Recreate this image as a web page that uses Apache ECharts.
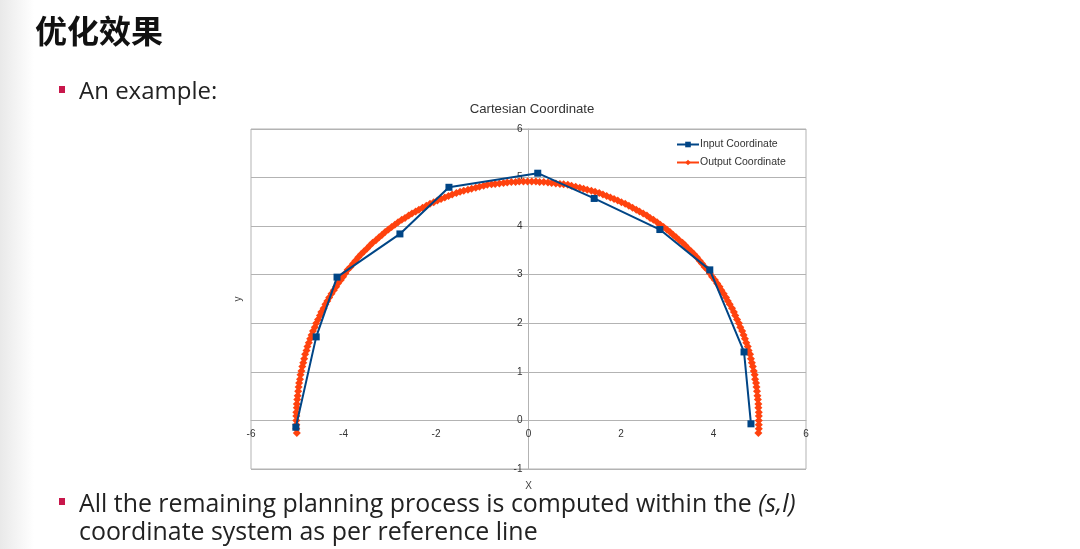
<!DOCTYPE html>
<html>
<head>
<meta charset="utf-8">
<title>优化效果</title>
<script src="https://cdn.jsdelivr.net/npm/echarts@6/dist/echarts.min.js"></script>
<style>
  html, body { margin: 0; padding: 0; background: #fff; }
  #main { width: 1080px; height: 549px; }
</style>
</head>
<body>
<div id="main"></div>
<script>
// input path points (blue squares)
var inX = [-5.03, -4.59, -4.14, -2.78, -1.72, 0.20, 1.42, 2.84, 3.92, 4.66, 4.81];
var inY = [-0.14, 1.72, 2.95, 3.84, 4.80, 5.09, 4.57, 3.93, 3.10, 1.41, -0.07];

// smoothed output points (orange diamonds), read left to right
var outX = [-5.01, -5.02, -5.02,
  -5.02, -5.02, -5.02, -5.01, -5.01, -5.00, -4.99, -4.98, -4.97, -4.96,
  -4.94, -4.93, -4.91, -4.89, -4.87, -4.85, -4.83, -4.80, -4.78, -4.75,
  -4.72, -4.69, -4.66, -4.62, -4.59, -4.55, -4.51, -4.48, -4.43, -4.39,
  -4.35, -4.31, -4.26, -4.21, -4.16, -4.12, -4.06, -4.01, -3.96, -3.91,
  -3.85, -3.79, -3.74, -3.68, -3.62, -3.56, -3.49, -3.43, -3.37, -3.30,
  -3.23, -3.17, -3.10, -3.03, -2.96, -2.89, -2.82, -2.74, -2.67, -2.59,
  -2.52, -2.44, -2.37, -2.29, -2.21, -2.13, -2.05, -1.97, -1.89, -1.81,
  -1.73, -1.65, -1.56, -1.48, -1.40, -1.31, -1.23, -1.14, -1.06, -0.97,
  -0.89, -0.80, -0.72, -0.63, -0.54, -0.46, -0.37, -0.28, -0.20, -0.11,
  -0.02,
  0.07, 0.16, 0.24, 0.33, 0.42, 0.50, 0.59, 0.68, 0.76, 0.85,
  0.93, 1.02, 1.11, 1.19, 1.27, 1.36, 1.44, 1.53, 1.61, 1.69,
  1.77, 1.85, 1.93, 2.01, 2.09, 2.17, 2.25, 2.33, 2.40, 2.48,
  2.56, 2.63, 2.70, 2.78, 2.85, 2.92, 2.99, 3.06, 3.13, 3.19,
  3.26, 3.33, 3.39, 3.45, 3.52, 3.58, 3.64, 3.70, 3.75, 3.81,
  3.87, 3.92, 3.97, 4.03, 4.08, 4.13, 4.17, 4.22, 4.27, 4.31,
  4.35, 4.40, 4.44, 4.47, 4.51, 4.55, 4.58, 4.62, 4.65, 4.68,
  4.71, 4.74, 4.76, 4.79, 4.81, 4.83, 4.85, 4.87, 4.89, 4.90,
  4.92, 4.93, 4.94, 4.95, 4.96, 4.97, 4.97, 4.98, 4.98, 4.98,
  4.98, 4.98, 4.97];
var outY = [-0.26, -0.17, -0.09,
  0.00, 0.09, 0.17, 0.26, 0.34, 0.43, 0.51, 0.60, 0.69, 0.77,
  0.85, 0.94, 1.02, 1.11, 1.19, 1.27, 1.36, 1.44, 1.52, 1.60,
  1.68, 1.76, 1.84, 1.92, 2.00, 2.08, 2.16, 2.23, 2.31, 2.39,
  2.46, 2.53, 2.61, 2.68, 2.75, 2.82, 2.89, 2.96, 3.03, 3.10,
  3.16, 3.23, 3.29, 3.36, 3.42, 3.48, 3.54, 3.60, 3.66, 3.71,
  3.77, 3.82, 3.88, 3.93, 3.98, 4.03, 4.08, 4.13, 4.17, 4.22,
  4.26, 4.30, 4.34, 4.38, 4.42, 4.46, 4.49, 4.53, 4.56, 4.59,
  4.62, 4.65, 4.68, 4.71, 4.73, 4.75, 4.77, 4.79, 4.81, 4.83,
  4.85, 4.86, 4.87, 4.88, 4.89, 4.90, 4.91, 4.91, 4.92, 4.92,
  4.92,
  4.92, 4.92, 4.91, 4.91, 4.90, 4.89, 4.88, 4.87, 4.86, 4.85,
  4.83, 4.81, 4.79, 4.77, 4.75, 4.73, 4.71, 4.68, 4.65, 4.62,
  4.59, 4.56, 4.53, 4.49, 4.46, 4.42, 4.38, 4.34, 4.30, 4.26,
  4.22, 4.17, 4.13, 4.08, 4.03, 3.98, 3.93, 3.88, 3.82, 3.77,
  3.71, 3.66, 3.60, 3.54, 3.48, 3.42, 3.36, 3.29, 3.23, 3.16,
  3.10, 3.03, 2.96, 2.89, 2.82, 2.75, 2.68, 2.61, 2.53, 2.46,
  2.39, 2.31, 2.23, 2.16, 2.08, 2.00, 1.92, 1.84, 1.76, 1.68,
  1.60, 1.52, 1.44, 1.36, 1.27, 1.19, 1.11, 1.02, 0.94, 0.85,
  0.77, 0.69, 0.60, 0.51, 0.43, 0.34, 0.26, 0.17, 0.09, 0.00,
  -0.09, -0.17, -0.26];

var seriesNames = ['Input Coordinate', 'Output Coordinate'];

function pairs(xs, ys) {
  return xs.map(function (x, i) { return [x, ys[i]]; });
}

var chartFont = '"Liberation Sans", Arial, sans-serif';
var slideFont = '"Open Sans", "Noto Sans", sans-serif';
var gridColor = '#b3b3b3';

// plot box in page pixels
var gLeft = 251, gRight = 806, gTop = 129, gBottom = 469;
// where the zero lines fall inside the box (x: -6..6, y: -1..6)
var zeroX = gLeft + (gRight - gLeft) * 6 / 12;
var zeroY = gBottom - (gBottom - gTop) * 1 / 7;

var mychart = echarts.init(document.getElementById('main'));
mychart.setOption({
  backgroundColor: '#fff',
  animation: false,
  textStyle: { fontFamily: chartFont },
  title: {
    text: 'Cartesian Coordinate',
    left: 527,
    top: 98,
    textAlign: 'center',
    textStyle: { fontSize: 13.2, fontWeight: 'normal', color: '#333', fontFamily: chartFont }
  },
  legend: {
    orient: 'vertical',
    left: 676,
    top: 139,
    padding: 0,
    itemWidth: 22,
    itemHeight: 7,
    itemGap: 7,
    textStyle: { fontSize: 10.5, color: '#333', fontFamily: chartFont, padding: [0, 0, 0, -4] },
    data: seriesNames
  },
  grid: {
    left: gLeft,
    right: 1080 - gRight,
    top: gTop,
    bottom: 549 - gBottom,
    outerBoundsMode: 'none',
    containLabel: false,
    show: true,
    borderColor: gridColor,
    borderWidth: 1
  },
  xAxis: {
    type: 'value',
    min: -6,
    max: 6,
    interval: 2,
    position: 'bottom',
    offset: -(gBottom - zeroY),
    name: 'X',
    nameLocation: 'middle',
    nameGap: 61,
    nameTextStyle: { fontSize: 10, color: '#444' },
    splitLine: { show: false },
    axisLine: { show: true, onZero: false, lineStyle: { color: gridColor } },
    axisTick: { show: false },
    axisLabel: { fontSize: 10, color: '#333', margin: 9 }
  },
  yAxis: {
    type: 'value',
    min: -1,
    max: 6,
    interval: 1,
    position: 'left',
    offset: -(zeroX - gLeft),
    name: 'y',
    nameLocation: 'middle',
    nameGap: 285,
    nameTextStyle: { fontSize: 10, color: '#444' },
    splitLine: { show: true, lineStyle: { color: gridColor } },
    axisLine: { show: true, onZero: false, lineStyle: { color: gridColor } },
    axisTick: { show: false },
    axisLabel: { fontSize: 10, color: '#333', margin: 6 }
  },
  graphic: [
    {
      type: 'rect',
      left: 0, top: 0, z: -10,
      shape: { width: 34, height: 549 },
      style: {
        fill: new echarts.graphic.LinearGradient(0, 0, 1, 0, [
          { offset: 0, color: '#e9e9e9' },
          { offset: 1, color: '#ffffff' }
        ])
      }
    },
    {
      type: 'text', left: 35, top: 15,
      style: { text: '优化效果', font: 'bold 32px "Noto Sans CJK SC"', fill: '#111' }
    },
    {
      type: 'rect', left: 59, top: 86,
      shape: { width: 6, height: 7 },
      style: { fill: '#c8174b' }
    },
    {
      type: 'text', left: 79, top: 80,
      style: { text: 'An example:', font: '24px ' + slideFont, fill: '#222' }
    },
    {
      type: 'rect', left: 59, top: 498,
      shape: { width: 6, height: 7 },
      style: { fill: '#c8174b' }
    },
    {
      type: 'text', left: 79, top: 492,
      style: {
        text: 'All the remaining planning process is computed within the {i|(s,l)}',
        font: '24.9px ' + slideFont,
        fill: '#222',
        rich: { i: { fontStyle: 'italic', fontSize: 24.9, fontFamily: slideFont, fill: '#222' } }
      }
    },
    {
      type: 'text', left: 79, top: 520,
      style: { text: 'coordinate system as per reference line', font: '24.9px ' + slideFont, fill: '#222' }
    }
  ],
  series: [
    {
      name: seriesNames[1],
      type: 'line',
      data: pairs(outX, outY),
      symbol: 'diamond',
      symbolSize: 8,
      showAllSymbol: true,
      color: '#ff420e',
      lineStyle: { width: 2, color: '#ff420e' },
      itemStyle: { color: '#ff420e' },
      z: 2
    },
    {
      name: seriesNames[0],
      type: 'line',
      data: pairs(inX, inY),
      symbol: 'rect',
      symbolSize: 7,
      color: '#004586',
      lineStyle: { width: 2, color: '#004586' },
      itemStyle: { color: '#004586' },
      z: 3
    }
  ]
});
</script>
</body>
</html>
